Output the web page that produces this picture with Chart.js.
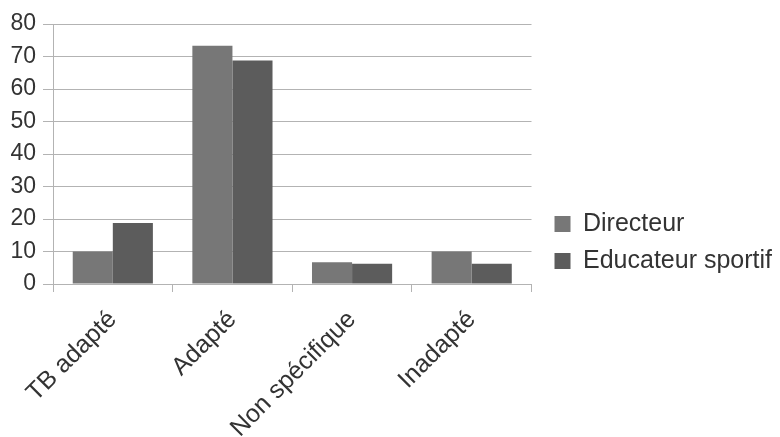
<!DOCTYPE html>
<html>
<head>
<meta charset="utf-8">
<script src="https://cdn.jsdelivr.net/npm/chart.js@4.4.0/dist/chart.umd.min.js"></script>
<style>
  html, body { margin: 0; padding: 0; background: #fff; }
  #wrap { width: 780px; height: 437px; }
</style>
</head>
<body>
<div id="wrap"><canvas id="chart" width="780" height="437"></canvas></div>
<script>
const categories = ['TB adapté', 'Adapté', 'Non spécifique', 'Inadapté'];
const directeur = [10, 73.3, 6.7, 10];
const educateur = [18.75, 68.75, 6.25, 6.25];
const yTicks = [0, 10, 20, 30, 40, 50, 60, 70, 80];

const gridColor = '#b3b3b3';
const textColor = '#333333';
const family = 'Liberation Sans, Arial, sans-serif';

// nudge the legend block right/down after layout so the plot keeps its width
const legendShift = {
  id: 'legendShift',
  afterLayout(chart) {
    const lg = chart.legend;
    lg.left += 11; lg.right += 11;
    lg.top += 12; lg.bottom += 12;
  }
};

new Chart(document.getElementById('chart').getContext('2d'), {
  type: 'bar',
  data: {
    labels: categories,
    datasets: [
      { label: 'Directeur', data: directeur, backgroundColor: '#777777',
        categoryPercentage: 0.67, barPercentage: 1.0 },
      { label: 'Educateur sportif', data: educateur, backgroundColor: '#5c5c5c',
        categoryPercentage: 0.67, barPercentage: 1.0 }
    ]
  },
  plugins: [legendShift],
  options: {
    responsive: false,
    animation: false,
    layout: { padding: { top: 24, right: 9, bottom: 0, left: 0 } },
    plugins: {
      tooltip: { enabled: false },
      legend: {
        position: 'right',
        maxWidth: 249,
        labels: {
          color: textColor,
          font: { family: family, size: 25 },
          boxWidth: 16,
          boxHeight: 16,
          padding: 12
        }
      }
    },
    scales: {
      x: {
        grid: {
          offset: true,
          color: (c) => (c.index === 0 || c.index === categories.length) ? gridColor : 'rgba(0,0,0,0)',
          tickColor: gridColor,
          tickLength: 8
        },
        border: { color: gridColor },
        ticks: {
          color: textColor,
          font: { family: family, size: 25 },
          minRotation: 45,
          maxRotation: 45,
          padding: 13
        },
        afterFit: (s) => { s.height = 153; }
      },
      y: {
        min: 0,
        max: 80,
        afterBuildTicks: (s) => { s.ticks = yTicks.map(v => ({ value: v })); },
        grid: { color: gridColor, tickColor: gridColor, tickLength: 10 },
        border: { color: gridColor },
        ticks: { color: textColor, font: { family: family, size: 23 }, padding: 7 },
        afterFit: (s) => { s.width = 53; }
      }
    }
  }
});
</script>
</body>
</html>
